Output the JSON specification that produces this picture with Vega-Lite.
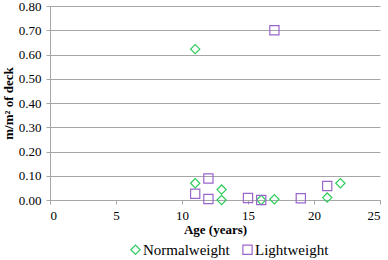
{
  "$schema": "https://vega.github.io/schema/vega-lite/v6.json",
  "width": 330,
  "height": 194,
  "autosize": {"type": "none"},
  "padding": {"left": 50, "top": 6, "right": 8, "bottom": 60},
  "background": "white",
  "config": {
    "font": "Times New Roman",
    "view": {"stroke": null},
    "axis": {"labelFont": "Times New Roman", "labelFontSize": 13, "labelFontWeight": "normal", "labelColor": "black", "titleFont": "Times New Roman", "titleFontSize": 13, "titleFontWeight": "bold", "titleColor": "black", "domainColor": "#a6a6a6", "tickColor": "#a6a6a6", "tickSize": 4, "labelPadding": 5},
    "legend": {"labelFont": "Times New Roman", "labelFontWeight": "normal"}
  },
  "data": {
    "values": [
      {"series": "Normalweight", "age": 11, "value": 0.622},
      {"series": "Normalweight", "age": 11, "value": 0.069},
      {"series": "Normalweight", "age": 13, "value": 0.043},
      {"series": "Normalweight", "age": 13, "value": 0.0},
      {"series": "Normalweight", "age": 16, "value": 0.0},
      {"series": "Normalweight", "age": 17, "value": 0.003},
      {"series": "Normalweight", "age": 21, "value": 0.01},
      {"series": "Normalweight", "age": 22, "value": 0.069},
      {"series": "Lightweight", "age": 17, "value": 0.70},
      {"series": "Lightweight", "age": 11, "value": 0.026},
      {"series": "Lightweight", "age": 12, "value": 0.089},
      {"series": "Lightweight", "age": 12, "value": 0.004},
      {"series": "Lightweight", "age": 15, "value": 0.008},
      {"series": "Lightweight", "age": 16, "value": 0.0},
      {"series": "Lightweight", "age": 19, "value": 0.007},
      {"series": "Lightweight", "age": 21, "value": 0.058}
    ]
  },
  "mark": {"type": "point", "filled": false, "strokeWidth": 1.2, "opacity": 1},
  "encoding": {
    "x": {
      "field": "age", "type": "quantitative", "title": "Age (years)",
      "scale": {"domain": [0, 25], "nice": false},
      "axis": {"values": [0, 5, 10, 15, 20, 25], "grid": false, "titlePadding": 1}
    },
    "y": {
      "field": "value", "type": "quantitative", "title": "m/m² of deck",
      "scale": {"domain": [0, 0.8], "nice": false},
      "axis": {"values": [0, 0.1, 0.2, 0.3, 0.4, 0.5, 0.6, 0.7, 0.8], "format": ".2f", "grid": true, "gridColor": "#a6a6a6", "gridWidth": 1, "titlePadding": 3}
    },
    "shape": {
      "field": "series", "type": "nominal",
      "scale": {"domain": ["Normalweight", "Lightweight"], "range": ["diamond", "square"]},
      "legend": null
    },
    "size": {
      "field": "series", "type": "nominal",
      "scale": {"domain": ["Normalweight", "Lightweight"], "range": [85, 85]},
      "legend": null
    },
    "color": {
      "field": "series", "type": "nominal",
      "scale": {"domain": ["Normalweight", "Lightweight"], "range": ["#2ecc5c", "#9b66cc"]},
      "legend": {
        "title": null, "orient": "none", "direction": "horizontal",
        "legendX": 78, "legendY": 236,
        "labelFont": "Times New Roman", "labelFontSize": 15, "labelColor": "black",
        "symbolSize": 70, "symbolStrokeWidth": 1.2,
        "labelOffset": 0, "columnPadding": 10, "symbolOffset": 0
      }
    }
  }
}
